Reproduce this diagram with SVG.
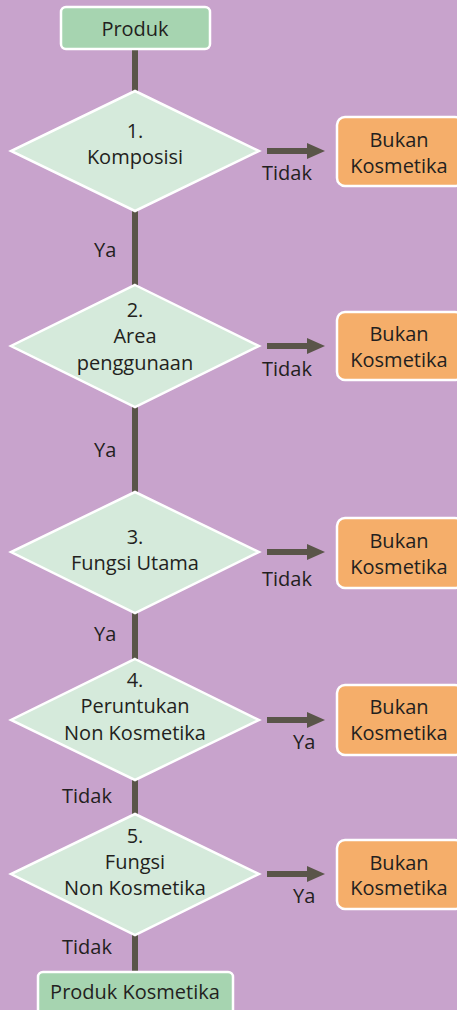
<svg xmlns="http://www.w3.org/2000/svg" width="457" height="1010" viewBox="0 0 457 1010">
<defs>
<marker id="ah" markerUnits="userSpaceOnUse" markerWidth="18" markerHeight="16" refX="0" refY="8" orient="auto">
<path d="M0,0 L18,8 L0,16 Z" fill="#5a5549"/>
</marker>
<style>
.bg{fill:#c8a3cc}
.t{font-family:"Open Sans","Noto Sans",sans-serif;font-size:20px;fill:#231f20;text-anchor:middle}
.tl{font-family:"Open Sans","Noto Sans",sans-serif;font-size:20px;fill:#231f20}
.term{fill:#a6d4b0;stroke:#ffffff;stroke-width:2.5}
.dec{fill:#d5eadb;stroke:#ffffff;stroke-width:2.5}
.no{fill:#f5ae6a;stroke:#ffffff;stroke-width:2.5}
.v{stroke:#5a5549;stroke-width:6;fill:none}
.h{stroke:#5a5549;stroke-width:6;fill:none;marker-end:url(#ah)}
</style>
</defs>
<rect class="bg" x="0" y="0" width="457" height="1010"/>
<g id="connectors">
<line class="v" x1="135" y1="49" x2="135" y2="92"/>
<line class="v" x1="135" y1="211" x2="135" y2="286"/>
<line class="v" x1="135" y1="406" x2="135" y2="493"/>
<line class="v" x1="135" y1="612" x2="135" y2="659"/>
<line class="v" x1="135" y1="780" x2="135" y2="815"/>
<line class="v" x1="135" y1="934" x2="135" y2="972"/>
<line class="h" x1="267" y1="151" x2="307" y2="151"/>
<line class="h" x1="267" y1="346" x2="307" y2="346"/>
<line class="h" x1="267" y1="552" x2="307" y2="552"/>
<line class="h" x1="267" y1="720" x2="307" y2="720"/>
<line class="h" x1="267" y1="874" x2="307" y2="874"/>
<text class="tl" x="262" y="180">Tidak</text>
<text class="tl" x="262" y="376">Tidak</text>
<text class="tl" x="262" y="586">Tidak</text>
<text class="tl" x="293" y="749">Ya</text>
<text class="tl" x="293" y="903">Ya</text>
<text class="tl" x="94" y="257">Ya</text>
<text class="tl" x="94" y="457">Ya</text>
<text class="tl" x="94" y="641">Ya</text>
<text class="tl" x="62" y="803">Tidak</text>
<text class="tl" x="62" y="954">Tidak</text>
</g>
<g id="produk">
<rect class="term" x="61" y="7" width="149" height="42" rx="5"/>
<text class="t" x="135" y="36">Produk</text>
</g>
<g id="d1">
<path class="dec" d="M135,91 L259,151 L135,211 L11,151 Z"/>
<text class="t" x="135" y="138">1.</text>
<text class="t" x="135" y="164">Komposisi</text>
</g>
<g id="d2">
<path class="dec" d="M135,285 L259,346 L135,407 L11,346 Z"/>
<text class="t" x="135" y="317">2.</text>
<text class="t" x="135" y="343">Area</text>
<text class="t" x="135" y="370">penggunaan</text>
</g>
<g id="d3">
<path class="dec" d="M135,492 L259,552 L135,613 L11,552 Z"/>
<text class="t" x="135" y="544">3.</text>
<text class="t" x="135" y="570">Fungsi Utama</text>
</g>
<g id="d4">
<path class="dec" d="M135,659 L259,720 L135,780 L11,720 Z"/>
<text class="t" x="135" y="687">4.</text>
<text class="t" x="135" y="713">Peruntukan</text>
<text class="t" x="135" y="740">Non Kosmetika</text>
</g>
<g id="d5">
<path class="dec" d="M135,814 L259,874 L135,935 L11,874 Z"/>
<text class="t" x="135" y="843">5.</text>
<text class="t" x="135" y="869">Fungsi</text>
<text class="t" x="135" y="895">Non Kosmetika</text>
</g>
<g id="n1">
<rect class="no" x="337" y="117" width="126" height="69" rx="8"/>
<text class="t" x="399" y="147">Bukan</text>
<text class="t" x="399" y="173">Kosmetika</text>
</g>
<g id="n2">
<rect class="no" x="337" y="312" width="126" height="68" rx="8"/>
<text class="t" x="399" y="341">Bukan</text>
<text class="t" x="399" y="367">Kosmetika</text>
</g>
<g id="n3">
<rect class="no" x="337" y="518" width="126" height="70" rx="8"/>
<text class="t" x="399" y="548">Bukan</text>
<text class="t" x="399" y="574">Kosmetika</text>
</g>
<g id="n4">
<rect class="no" x="337" y="685" width="126" height="70" rx="8"/>
<text class="t" x="399" y="714">Bukan</text>
<text class="t" x="399" y="740">Kosmetika</text>
</g>
<g id="n5">
<rect class="no" x="337" y="840" width="126" height="69" rx="8"/>
<text class="t" x="399" y="870">Bukan</text>
<text class="t" x="399" y="895">Kosmetika</text>
</g>
<g id="produk-kosmetika">
<rect class="term" x="38" y="972" width="195" height="50" rx="5"/>
<text class="t" x="135" y="999">Produk Kosmetika</text>
</g>
</svg>
